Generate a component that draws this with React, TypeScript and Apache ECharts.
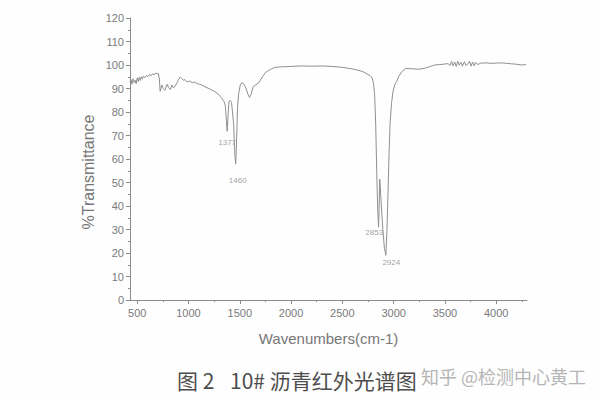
import React, { useEffect, useRef } from "react";
import * as echarts from "echarts";

const wavenumbers = [
  430, 440, 450, 460, 470, 480, 490, 500, 510, 520, 530, 540, 550, 560, 575, 590, 605, 620, 635, 650, 665, 680, 695, 705,
  715, 724, 740, 753, 770, 792, 805, 822, 840, 851, 870, 890, 905, 919, 935, 950, 965, 987, 1010, 1036, 1060, 1085, 1110,
  1144, 1170, 1200, 1230, 1260, 1290, 1310, 1330, 1350, 1360, 1370, 1377, 1385, 1395, 1405, 1420, 1440, 1452, 1460, 1468,
  1478, 1490, 1505, 1520, 1540, 1560, 1580, 1595, 1610, 1630, 1655, 1680, 1700, 1725, 1750, 1780, 1810, 1845, 1900, 1950,
  2000, 2100, 2200, 2300, 2400, 2500, 2600, 2650, 2700, 2740, 2770, 2790, 2805, 2815, 2825, 2835, 2845, 2853, 2858, 2864,
  2870, 2880, 2895, 2910, 2924, 2935, 2945, 2955, 2965, 2980, 2995, 3010, 3030, 3050, 3080, 3120, 3180, 3250, 3300, 3350,
  3400, 3450, 3500, 3530, 3550, 3565, 3580, 3595, 3610, 3625, 3640, 3655, 3670, 3690, 3705, 3720, 3740, 3755, 3770, 3785,
  3800, 3820, 3850, 3900, 3950, 4000, 4050, 4100, 4150, 4200, 4250, 4290,
];
const transmittance = [
  92.5, 93.8, 91.8, 94.2, 92.6, 93.5, 92.0, 94.5, 93.0, 94.8, 93.4, 95.0, 94.0, 95.3, 94.6, 95.6, 95.0, 96.0, 95.4, 96.3,
  95.8, 96.6, 96.2, 96.5, 94.5, 88.8, 91.5, 90.0, 89.2, 91.8, 90.5, 89.6, 91.5, 90.3, 91.0, 92.5, 94.0, 94.9, 94.2, 93.5,
  93.8, 92.8, 93.2, 92.5, 92.7, 92.0, 91.8, 91.2, 90.5, 90.0, 89.3, 88.6, 87.6, 86.6, 85.5, 84.2, 82.5, 76, 71.8, 78, 84.5,
  85.0, 84, 75, 62, 57.8, 66, 82, 88, 91.5, 92.5, 91.8, 90.2, 87.5, 86.2, 87.5, 90.8, 91.5, 92.2, 93.5, 95.2, 96.8, 97.6,
  98.4, 99.0, 99.2, 99.3, 99.4, 99.6, 99.5, 99.6, 99.4, 99.0, 98.3, 97.8, 97.2, 96.2, 95.5, 94.5, 92.0, 87, 75, 55, 38, 31,
  38, 51.5, 48, 40, 30, 22, 19, 30, 45, 62, 75, 84, 89, 91.5, 93, 95.2, 97.2, 98.5, 98.4, 98.2, 98.6, 99.3, 100.0, 100.2,
  100.4, 100.6, 99.8, 101.5, 99.6, 101.3, 99.4, 101.6, 99.9, 101.2, 99.5, 101.4, 99.8, 100.2, 101.6, 99.5, 101.3, 99.7,
  101.1, 100.2, 100.8, 100.9, 100.7, 100.8, 100.9, 100.7, 100.5, 100.3, 100.0, 100.2,
];

const peakNames = ["1377", "1460", "2853", "2924"];
const peakLabelX = [1377, 1480, 2811, 2977];
const peakLabelY = [67, 51, 28.6, 15.8];

const xLabelValues = [500, 1000, 1500, 2000, 2500, 3000, 3500, 4000];
const xMinorValues = [750, 1250, 1750, 2250, 2750, 3250, 3750, 4250];

const TITLE_A = "图 2";
const TITLE_B = "10# 沥青红外光谱图";
const WATERMARK = "知乎 @检测中心黄工";

export default function App() {
  const ref = useRef<HTMLDivElement>(null);
  useEffect(() => {
    if (!ref.current) return;
    const chart = echarts.init(ref.current, null, { renderer: "svg" });
    const axisColor = "#8c8c8c";
    const textColor = "#7a7a7a";
    const font = "Liberation Sans, Arial, sans-serif";
    const cjk = "Noto Sans CJK SC, sans-serif";
    chart.setOption({
      animation: false,
      backgroundColor: "#fefefe",
      grid: { left: 130, right: 73, top: 18, bottom: 100 },
      xAxis: [
        {
          type: "value",
          min: 430,
          max: 4300,
          name: "Wavenumbers(cm-1)",
          nameLocation: "middle",
          nameGap: 31,
          nameTextStyle: { color: "#777", fontSize: 15, fontFamily: font },
          axisLine: { lineStyle: { color: axisColor, width: 1 } },
          axisTick: { show: true, length: 4, customValues: xLabelValues, lineStyle: { color: axisColor } },
          axisLabel: {
            customValues: xLabelValues,
            formatter: (v: number) => String(v),
            color: textColor,
            fontSize: 11,
            fontFamily: font,
            margin: 7,
          },
          splitLine: { show: false },
        },
        {
          type: "value",
          min: 430,
          max: 4300,
          position: "bottom",
          axisLine: { show: false },
          axisTick: { show: true, length: 2, customValues: xMinorValues, lineStyle: { color: axisColor } },
          axisLabel: { show: false },
          splitLine: { show: false },
        },
      ],
      yAxis: {
        type: "value",
        min: 0,
        max: 120,
        interval: 10,
        axisLine: { show: true, lineStyle: { color: axisColor, width: 1 } },
        axisTick: { show: true, length: 4, lineStyle: { color: axisColor } },
        minorTick: { show: true, splitNumber: 2, length: 2, lineStyle: { color: axisColor } },
        axisLabel: { color: textColor, fontSize: 11, fontFamily: font, margin: 6 },
        splitLine: { show: false },
      },
      series: [
        {
          type: "line",
          data: wavenumbers.map((w, i) => [w, transmittance[i]]),
          showSymbol: false,
          symbol: "none",
          lineStyle: { color: "#8f8f8f", width: 1 },
        },
        {
          type: "scatter",
          symbolSize: 0,
          data: peakNames.map((n, i) => ({ name: n, value: [peakLabelX[i], peakLabelY[i]] })),
          label: {
            show: true,
            position: "inside",
            formatter: (p: any) => p.name,
            color: "#888",
            fontSize: 8,
            fontFamily: font,
          },
        },
      ],
      graphic: [
        {
          type: "text",
          x: 88,
          y: 172,
          rotation: Math.PI / 2,
          style: {
            text: "%Transmittance",
            fill: "#777",
            fontSize: 16,
            fontFamily: font,
            align: "center",
            verticalAlign: "middle",
          },
        },
        {
          type: "text",
          x: 177,
          y: 380,
          style: { text: TITLE_A, fill: "#4d4d4d", fontSize: 21, fontFamily: cjk, align: "left", verticalAlign: "middle" },
        },
        {
          type: "text",
          x: 230,
          y: 380,
          style: { text: TITLE_B, fill: "#4d4d4d", fontSize: 21, fontFamily: cjk, align: "left", verticalAlign: "middle" },
        },
        {
          type: "text",
          x: 421,
          y: 376,
          style: { text: WATERMARK, fill: "#b5b5b5", fontSize: 18, fontFamily: cjk, align: "left", verticalAlign: "middle" },
        },
      ],
    });
    return () => chart.dispose();
  }, []);
  return <div ref={ref} style={{ position: "fixed", left: 0, top: 0, width: 600, height: 400 }} />;
}
